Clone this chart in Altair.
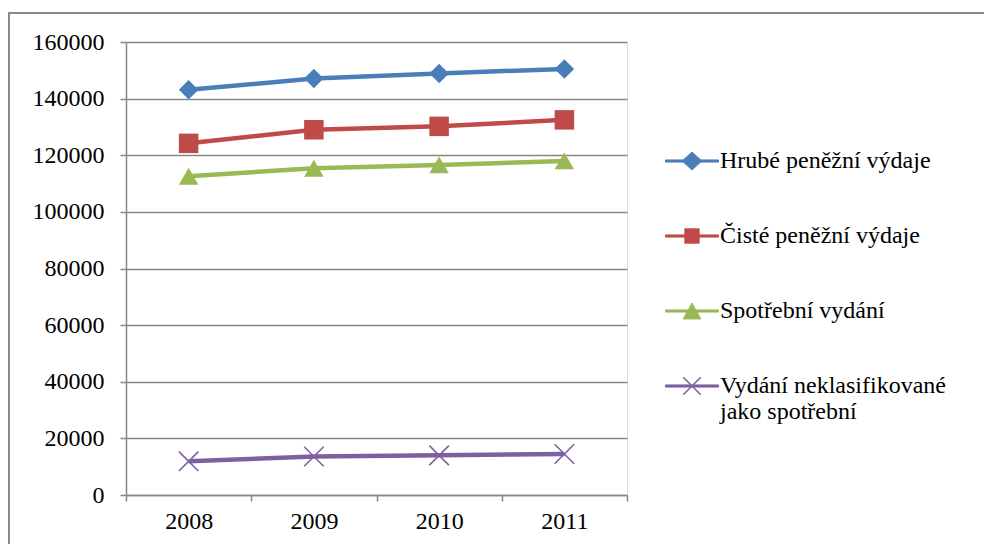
import altair as alt
import pandas as pd

years = ["2008", "2009", "2010", "2011"]
series_names = [
    "Hrubé peněžní výdaje",
    "Čisté peněžní výdaje",
    "Spotřební vydání",
    "Vydání neklasifikované jako spotřební",
]
hrube = [143100, 147100, 148900, 150500]
ciste = [124200, 129000, 130200, 132500]
spotrebni = [112600, 115400, 116600, 118000]
neklas = [11900, 13600, 14000, 14500]
colors = ["#4a7ebb", "#be4b48", "#98b954", "#7d60a0"]
y_ticks = [0, 20000, 40000, 60000, 80000, 100000, 120000, 140000, 160000]

plot_shapes = ["diamond", "square", "triangle-up", "M-1,-1L1,1M-1,1L1,-1"]

LINE = "M-1,-0.04L1,-0.04L1,0.04L-1,0.04Z"
legend_paths = [
    LINE + "M0,-0.34L0.37,0L0,0.34L-0.37,0Z",
    LINE + "M-0.27,-0.27L0.27,-0.27L0.27,0.27L-0.27,0.27Z",
    LINE + "M0,-0.3L0.33,0.3L-0.33,0.3Z",
    LINE + "M-0.31,-0.33L0.33,0.31L0.31,0.33L-0.33,-0.31Z"
         + "M-0.31,0.33L0.33,-0.31L0.31,-0.33L-0.33,0.31Z",
]

rows = []
for name, vals in zip(series_names, [hrube, ciste, spotrebni, neklas]):
    for yr, v in zip(years, vals):
        rows.append({"year": yr, "series": name, "value": v})
df = pd.DataFrame(rows)

FONT = "Liberation Serif"
FS = 24
GRAY = "#878787"

x_enc = alt.X(
    "year:O",
    scale=alt.Scale(type="band", domain=years, paddingInner=0, paddingOuter=0),
    bandPosition=0.5,
    axis=alt.Axis(
        title=None, tickBand="extent", labelAngle=0, grid=False,
        domainColor=GRAY, domainWidth=1.5, tickColor=GRAY, tickWidth=1.5, tickSize=6,
        labelPadding=8, labelFont=FONT, labelFontSize=FS, labelColor="black",
    ),
)
y_enc = alt.Y(
    "value:Q",
    scale=alt.Scale(domain=[0, 160000], nice=False),
    axis=alt.Axis(
        title=None, values=y_ticks, format="d", grid=True,
        gridColor=GRAY, gridWidth=1.5, domainColor=GRAY, domainWidth=1.5,
        tickColor=GRAY, tickWidth=1.5, tickSize=6, labelPadding=16,
        labelFont=FONT, labelFontSize=FS, labelColor="black",
    ),
)

border = alt.Chart(pd.DataFrame({"k": [0]})).mark_rect(
    fillOpacity=0, stroke="#8a8a8a", strokeWidth=2
).encode(
    x=alt.value(-117), x2=alt.value(950), y=alt.value(-29), y2=alt.value(700)
)

line_layers = []
point_layers = []
for name, col, shp in zip(series_names, colors, plot_shapes):
    line_layers.append(
        alt.Chart(df).mark_line(strokeWidth=4.5, stroke=col)
        .transform_filter(alt.datum.series == name)
        .encode(x=x_enc, y=y_enc)
    )
    if shp.startswith("M"):
        mk = alt.Chart(df).mark_point(shape=shp, filled=False, stroke=col, strokeWidth=1.6, size=380, opacity=1)
    else:
        mk = alt.Chart(df).mark_point(shape=shp, filled=True, fill=col, size=380, opacity=1)
    point_layers.append(
        mk.transform_filter(alt.datum.series == name).encode(x=x_enc, y=y_enc)
    )

last = series_names[-1]
label_expr = (
    "datum.label == '" + last + "' ? ['Vydání neklasifikované', 'jako spotřební'] : datum.label"
)
leg = alt.Legend(
    orient="none", legendX=539, legendY=92, title=None,
    labelFont=FONT, labelFontSize=FS, labelColor="black", labelLimit=400,
    rowPadding=36, labelOffset=1, symbolSize=2809, symbolStrokeWidth=1,
    symbolOpacity=1, labelExpr=label_expr,
)
legend_layer = alt.Chart(df).mark_point(
    filled=True, size=0, strokeWidth=1, opacity=1
).encode(
    x=x_enc, y=y_enc,
    shape=alt.Shape("series:N", scale=alt.Scale(domain=series_names, range=legend_paths), legend=leg),
    fill=alt.Fill("series:N", scale=alt.Scale(domain=series_names, range=colors), legend=leg),
    stroke=alt.Stroke("series:N", scale=alt.Scale(domain=series_names, range=colors), legend=leg),
)

chart = alt.layer(border, *line_layers, *point_layers, legend_layer).properties(
    width=501, height=453,
    padding={"left": 118, "top": 34, "right": 357, "bottom": 49},
    autosize="none",
).configure_view(stroke=None).configure(background="white")

chart.save("out.html", embed_options={"renderer": "svg", "actions": False})
